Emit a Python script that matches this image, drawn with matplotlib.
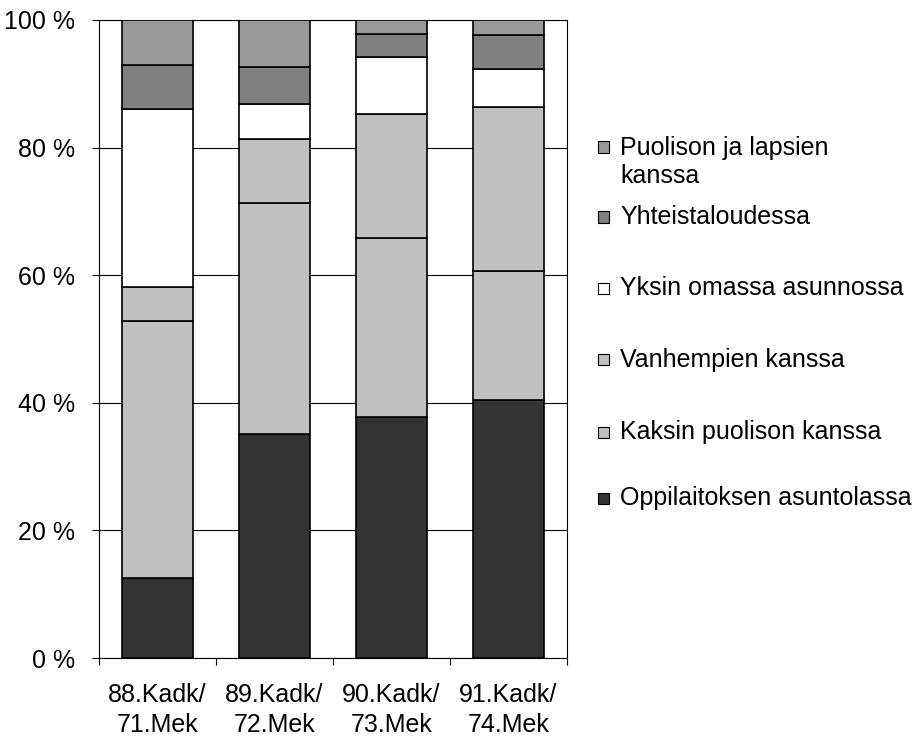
import matplotlib.pyplot as plt
from matplotlib.patches import Rectangle
import numpy as np

plt.rcParams['font.family'] = ['Liberation Sans', 'DejaVu Sans']

categories = ['88.Kadk/\n71.Mek', '89.Kadk/\n72.Mek', '90.Kadk/\n73.Mek', '91.Kadk/\n74.Mek']

# osuudet (%), alhaalta ylös
oppilaitos = [12.5, 35.1, 37.8, 40.5]
kaksin = [40.3, 36.2, 28.0, 20.1]
vanhemmat = [5.4, 10.1, 19.5, 25.7]
yksin = [27.8, 5.5, 8.9, 6.0]
yhteistalous = [7.0, 5.8, 3.6, 5.3]
puoliso_lapset = [7.0, 7.3, 2.2, 2.4]

series = [
    ('Oppilaitoksen asuntolassa', oppilaitos, '#333333'),
    ('Kaksin puolison kanssa', kaksin, '#C0C0C0'),
    ('Vanhempien kanssa', vanhemmat, '#C0C0C0'),
    ('Yksin omassa asunnossa', yksin, '#FFFFFF'),
    ('Yhteistaloudessa', yhteistalous, '#808080'),
    ('Puolison ja lapsien\nkanssa', puoliso_lapset, '#999999'),
]

FS = 18

fig = plt.figure(figsize=(9.2, 7.38), dpi=100)
ax = fig.add_axes([0.1076, 0.1084, 0.5087, 0.8645])

x = np.arange(len(categories))
bottom = np.zeros(len(categories))
for name, vals, col in series:
    ax.bar(x, vals, width=0.615, bottom=bottom, color=col,
           edgecolor='black', linewidth=1.2, zorder=3)
    bottom += np.array(vals)

ax.set_xlim(-0.5, 3.5)
ax.set_ylim(0, 100)
ax.set_yticks([0, 20, 40, 60, 80, 100])
ax.set_yticklabels(['0 %', '20 %', '40 %', '60 %', '80 %', '100 %'], fontsize=FS)
ax.yaxis.grid(True, color='black', linewidth=0.8, zorder=0)
ax.tick_params(axis='y', direction='out', length=5, width=0.8, pad=12)

ax.set_xticks(x)
ax.set_xticklabels(categories, fontsize=FS, linespacing=1.3)
ax.set_xticks([-0.5, 0.5, 1.5, 2.5, 3.5], minor=True)
ax.tick_params(axis='x', which='major', length=0, pad=18)
ax.tick_params(axis='x', which='minor', direction='out', length=5, width=0.8)

for s in ax.spines.values():
    s.set_color('black')
    s.set_linewidth(0.8)

# selite käsin, ylhäältä alas
leg_y = [147, 217, 288, 360, 432, 498]
line_h = 30
for (name, vals, col), yp in zip(reversed(series), leg_y):
    fy = 1 - yp / 738
    fig.patches.append(Rectangle((598 / 920, fy - 5.5 / 738), 11 / 920, 11 / 738,
                                 transform=fig.transFigure, facecolor=col,
                                 edgecolor='black', linewidth=0.8))
    n_lines = name.count('\n') + 1
    cy = yp + (n_lines - 1) * line_h / 2
    fig.text(620 / 920, 1 - cy / 738, name, fontsize=FS, va='center', ha='left',
             linespacing=1.2)

fig.savefig('out.png', dpi=100)
